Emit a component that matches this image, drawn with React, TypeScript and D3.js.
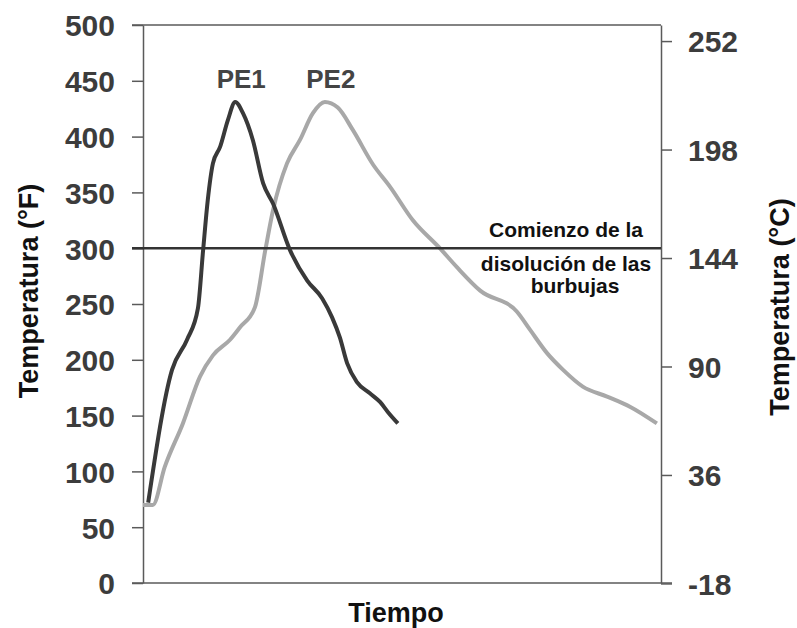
import { useEffect, useRef } from 'react';
import * as d3 from 'd3';

// time is unitless (0..100), temperature in °F
const pe1Time = [1, 5.6, 8.5, 10.6, 11.6, 12.5, 13.5, 14.9, 16.4, 17.8, 19.3, 21.2, 23.2, 25.1, 28.4, 31.7, 34.6, 36.5, 38.0, 39.4, 41.3, 43.8, 45.8, 47.3, 49.2];
const pe1Temp = [72, 191, 218, 246, 298, 343, 376, 391, 415, 431, 421, 397, 358, 340, 298, 271, 255, 238, 220, 197, 180, 170, 162, 153, 143];

const pe2Time = [0, 1.9, 4.2, 7.7, 11.0, 13.5, 16.8, 18.7, 21.6, 23.6, 25.1, 27.8, 30.3, 32.8, 35.1, 37.6, 40.5, 44.4, 47.7, 52.1, 57.3, 60.6, 65.1, 72.2, 74.7, 78.0, 81.1, 84.9, 89.6, 94.0, 99.2];
const pe2Temp = [70, 70, 104, 143, 185, 204, 218, 229, 247, 298, 334, 376, 397, 421, 431, 426, 406, 375, 355, 325, 300, 283, 262, 243, 227, 206, 191, 176, 167, 158, 143];

const fTicks = [0, 50, 100, 150, 200, 250, 300, 350, 400, 450, 500];
const cTicks = [-18, 36, 90, 144, 198, 252];
const dissolutionTemp = 300;

const annotation = ['Comienzo de la', 'disolución de las', 'burbujas'];

const FONT = '"Liberation Sans", Arial, Helvetica, sans-serif';

export default function App() {
  const svgRef = useRef<SVGSVGElement>(null);

  useEffect(() => {
    if (!svgRef.current) return;
    const svg = d3.select(svgRef.current);
    svg.selectAll('*').remove();

    const x = d3.scaleLinear().domain([0, 100]).range([143, 661]);
    const y = d3.scaleLinear().domain([0, 500]).range([583, 25]);
    const cToF = (c: number) => c * 9 / 5 + 32;

    svg.append('rect').attr('width', 797).attr('height', 628).attr('fill', '#fff');

    // frame: top and bottom
    svg.append('line')
      .attr('x1', x(0) - 11).attr('x2', x(100))
      .attr('y1', y(500)).attr('y2', y(500))
      .attr('stroke', '#5a5a5a').attr('stroke-width', 1.5);
    svg.append('line')
      .attr('x1', x(0) - 11).attr('x2', x(100) + 11)
      .attr('y1', y(0)).attr('y2', y(0))
      .attr('stroke', '#5a5a5a').attr('stroke-width', 1.5);

    // left axis (°F)
    const left = svg.append('g')
      .attr('transform', 'translate(' + x(0) + ',0)')
      .call(d3.axisLeft(y).tickValues(fTicks).tickSize(11).tickSizeOuter(0).tickPadding(17).tickFormat(d3.format('d')));

    // right axis (°C)
    const right = svg.append('g')
      .attr('transform', 'translate(' + x(100) + ',0)')
      .call(d3.axisRight(y).tickValues(cTicks.map(cToF)).tickSize(11).tickSizeOuter(0).tickPadding(16)
        .tickFormat((d, i) => String(cTicks[i])));

    [left, right].forEach(g => {
      g.select('.domain').attr('stroke', '#5a5a5a').attr('stroke-width', 1.5);
      g.selectAll('.tick line').attr('stroke', '#5a5a5a').attr('stroke-width', 1.5);
      g.selectAll('.tick text')
        .attr('font-family', FONT)
        .attr('font-size', '30px')
        .attr('font-weight', 'bold')
        .attr('fill', '#3c3c3c')
        .attr('dy', '0.36em');
    });

    const line = d3.line<[number, number]>()
      .x(d => x(d[0]))
      .y(d => y(d[1]))
      .curve(d3.curveMonotoneX);

    const pe2 = pe2Time.map((t, i) => [t, pe2Temp[i]] as [number, number]);
    const pe1 = pe1Time.map((t, i) => [t, pe1Temp[i]] as [number, number]);

    svg.append('path')
      .attr('d', line(pe2) || '')
      .attr('fill', 'none')
      .attr('stroke', '#a8a8a8')
      .attr('stroke-width', 4)
      .attr('stroke-linejoin', 'round');

    svg.append('path')
      .attr('d', line(pe1) || '')
      .attr('fill', 'none')
      .attr('stroke', '#393939')
      .attr('stroke-width', 4)
      .attr('stroke-linejoin', 'round');

    // bubble dissolution line
    svg.append('line')
      .attr('x1', x(0) - 11).attr('x2', x(100))
      .attr('y1', y(dissolutionTemp)).attr('y2', y(dissolutionTemp))
      .attr('stroke', '#333').attr('stroke-width', 2.5);

    // series labels above their peaks
    const peak = (pts: [number, number][]) => pts.reduce((a, b) => (b[1] > a[1] ? b : a));
    [['PE1', peak(pe1)], ['PE2', peak(pe2)]].forEach(([name, p]) => {
      const pt = p as [number, number];
      svg.append('text')
        .attr('x', x(pt[0]) + 6)
        .attr('y', y(pt[1]) - 14)
        .attr('text-anchor', 'middle')
        .attr('font-family', FONT)
        .attr('font-size', '26px')
        .attr('font-weight', 'bold')
        .attr('fill', '#444')
        .text(name as string);
    });

    // annotation
    const ann = svg.append('g')
      .attr('font-family', FONT)
      .attr('font-size', '21px')
      .attr('font-weight', 'bold')
      .attr('fill', '#111')
      .attr('text-anchor', 'middle');
    ann.append('text').attr('x', 566).attr('y', y(dissolutionTemp) - 11).text(annotation[0]);
    ann.append('text').attr('x', 566).attr('y', y(dissolutionTemp) + 23).text(annotation[1]);
    ann.append('text').attr('x', 575).attr('y', y(dissolutionTemp) + 45).text(annotation[2]);

    // axis titles
    const title = (txt: string, tx: number, ty: number, rot: number) => {
      svg.append('text')
        .attr('transform', 'translate(' + tx + ',' + ty + ') rotate(' + rot + ')')
        .attr('text-anchor', 'middle')
        .attr('font-family', FONT)
        .attr('font-size', '27px')
        .attr('font-weight', 'bold')
        .attr('fill', '#111')
        .text(txt);
    };
    title('Temperatura (°F)', 38, 291, -90);
    title('Temperatura (°C)', 789, 307, -90);
    title('Tiempo', 396, 622, 0);
  }, []);

  return (
    <svg
      ref={svgRef}
      width={797}
      height={628}
      style={{ position: 'absolute', left: 0, top: 0, display: 'block' }}
    />
  );
}
